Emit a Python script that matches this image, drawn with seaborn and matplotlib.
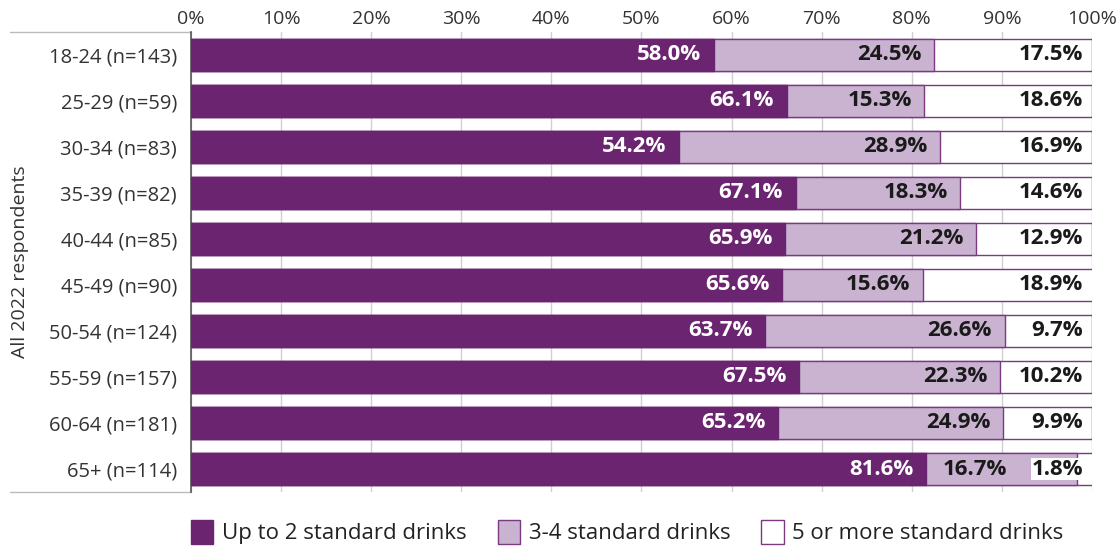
import matplotlib
matplotlib.use("Agg")
import matplotlib.pyplot as plt
import seaborn as sns
import pandas as pd
import numpy as np
from matplotlib.patches import Patch
from matplotlib.lines import Line2D

categories = ["18-24 (n=143)", "25-29 (n=59)", "30-34 (n=83)", "35-39 (n=82)", "40-44 (n=85)",
              "45-49 (n=90)", "50-54 (n=124)", "55-59 (n=157)", "60-64 (n=181)", "65+ (n=114)"]
up_to_2 = [58.0, 66.1, 54.2, 67.1, 65.9, 65.6, 63.7, 67.5, 65.2, 81.6]
three_four = [24.5, 15.3, 28.9, 18.3, 21.2, 15.6, 26.6, 22.3, 24.9, 16.7]
five_plus = [17.5, 18.6, 16.9, 14.6, 12.9, 18.9, 9.7, 10.2, 9.9, 1.8]
series_names = ["Up to 2 standard drinks", "3-4 standard drinks", "5 or more standard drinks"]
xtick_vals = list(range(0, 101, 10))
ylabel = "All 2022 respondents"

dark = "#6B2570"
light = "#C9B3D1"
white = "#FFFFFF"
edge = "#7A3A80"

sns.set_style("white")
plt.rcParams['font.family'] = ['Open Sans', 'DejaVu Sans']

df = pd.DataFrame({"cat": categories, "a": up_to_2, "b": three_four, "c": five_plus})
df["ab"] = df["a"] + df["b"]
df["abc"] = df["ab"] + df["c"]

fig = plt.figure(figsize=(11.16, 5.46), dpi=100)
ax = fig.add_axes([0.1711, 0.0989, 0.8074, 0.8425])

w = 0.68
sns.barplot(data=df, y="cat", x="abc", color=white, edgecolor=edge, linewidth=1.0,
            width=w, ax=ax, saturation=1, zorder=2)
sns.barplot(data=df, y="cat", x="ab", color=light, edgecolor=edge, linewidth=1.0,
            width=w, ax=ax, saturation=1, zorder=3)
sns.barplot(data=df, y="cat", x="a", color=dark, edgecolor=dark, linewidth=1.0,
            width=w, ax=ax, saturation=1, zorder=4)

ax.set_xlim(0, 100)
ax.set_ylim(len(categories) - 0.5, -0.5)
ax.xaxis.tick_top()
ax.set_xticks(xtick_vals)
ax.set_xticklabels([f"{v}%" for v in xtick_vals], fontsize=14, color="#333333")
ax.tick_params(axis="x", length=0, pad=3)
ax.tick_params(axis="y", length=0, pad=10, labelsize=14.5, labelcolor="#333333")
ax.set_xlabel("")
ax.set_ylabel(ylabel, fontsize=14, color="#333333", labelpad=14)
ax.grid(axis="x", color="#D0D0D0", linewidth=1.0, zorder=0)
ax.set_axisbelow(True)
for s in ["top", "right", "bottom"]:
    ax.spines[s].set_visible(False)
ax.spines["left"].set_color("#555555")
ax.spines["left"].set_linewidth(1.2)

# outer bracket lines on the category side
for yy in [0, 1]:
    ax.add_line(Line2D([-0.2007, 0], [yy, yy], transform=ax.transAxes, color="#BBBBBB",
                       linewidth=1.0, clip_on=False))

pad = 1.4
fs = 16
for i in range(len(categories)):
    a, ab, abc = df["a"][i], df["ab"][i], df["abc"][i]
    ax.text(a - pad, i, f"{up_to_2[i]:.1f}%", ha="right", va="center", color="white",
            fontsize=fs, fontweight="bold", zorder=6)
    kw = {}
    if five_plus[i] < 5:
        mid_x = 90.6
        last_x = 99.0
        kw["bbox"] = dict(facecolor="white", edgecolor="none", pad=0.5)
    else:
        mid_x = ab - pad
        last_x = min(abc, 100) - 1.0
    ax.text(mid_x, i, f"{three_four[i]:.1f}%", ha="right", va="center", color="#1a1a1a",
            fontsize=fs, fontweight="bold", zorder=6)
    ax.text(last_x, i, f"{five_plus[i]:.1f}%", ha="right", va="center",
            color="#1a1a1a", fontsize=fs, fontweight="bold", zorder=6, **kw)

handles = [Patch(facecolor=dark, edgecolor=dark), Patch(facecolor=light, edgecolor=edge),
           Patch(facecolor=white, edgecolor=edge)]
fig.legend(handles, series_names, loc="center", bbox_to_anchor=(0.562, 0.026), ncol=3,
           frameon=False, fontsize=16, handlelength=1.0, handleheight=1.3,
           handletextpad=0.4, columnspacing=1.4, labelcolor="#222222")

fig.savefig("out.png", dpi=100)
